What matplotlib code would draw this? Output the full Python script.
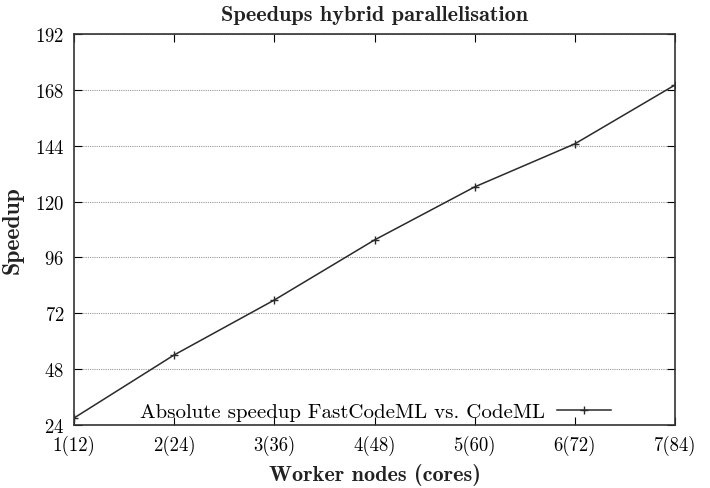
import matplotlib.pyplot as plt

# data
nodes = [1, 2, 3, 4, 5, 6, 7]
node_labels = ['1(12)', '2(24)', '3(36)', '4(48)', '5(60)', '6(72)', '7(84)']
speedup = [27.0, 54.1, 77.7, 103.5, 126.3, 144.8, 170.1]
y_ticks = [24, 48, 72, 96, 120, 144, 168, 192]

plt.rcParams['font.family'] = ['cmr10', 'DejaVu Serif']
plt.rcParams['axes.formatter.use_mathtext'] = True

fig = plt.figure(figsize=(7.1, 4.89), dpi=100)
ax = fig.add_axes([74 / 710, 63 / 489, 601 / 710, 391 / 489])

ax.plot(nodes, speedup, color='#2a2a2a', linewidth=1.1, marker='+', markersize=6,
        markeredgewidth=1.0, label='Absolute speedup FastCodeML vs. CodeML')

ax.set_xlim(1, 7)
ax.set_ylim(24, 192)
ax.set_xticks(nodes)
ax.set_xticklabels(node_labels)
ax.set_yticks(y_ticks)
ax.yaxis.grid(True, linestyle=(0, (1, 1)), color='#999999', linewidth=0.8)

ax.tick_params(direction='in', top=True, right=True, length=6, width=0.8,
               labelsize=13.5, pad=7)
for s in ax.spines.values():
    s.set_linewidth(1.2)
    s.set_color('#333333')

ax.set_title('Speedups hybrid parallelisation', fontname='cmb10', fontsize=16,
             color='#222222', pad=10)
ax.set_xlabel('Worker nodes (cores)', fontname='cmb10', fontsize=16,
              color='#222222', labelpad=6)
ax.set_ylabel('Speedup', fontname='cmb10', fontsize=17, color='#222222', labelpad=8)

ax.legend(loc='lower right', frameon=False, markerfirst=False, fontsize=15,
          handlelength=2.6, handletextpad=0.6, borderaxespad=0.0,
          bbox_to_anchor=(0.908, -0.012))

plt.savefig('out.png', dpi=100)
